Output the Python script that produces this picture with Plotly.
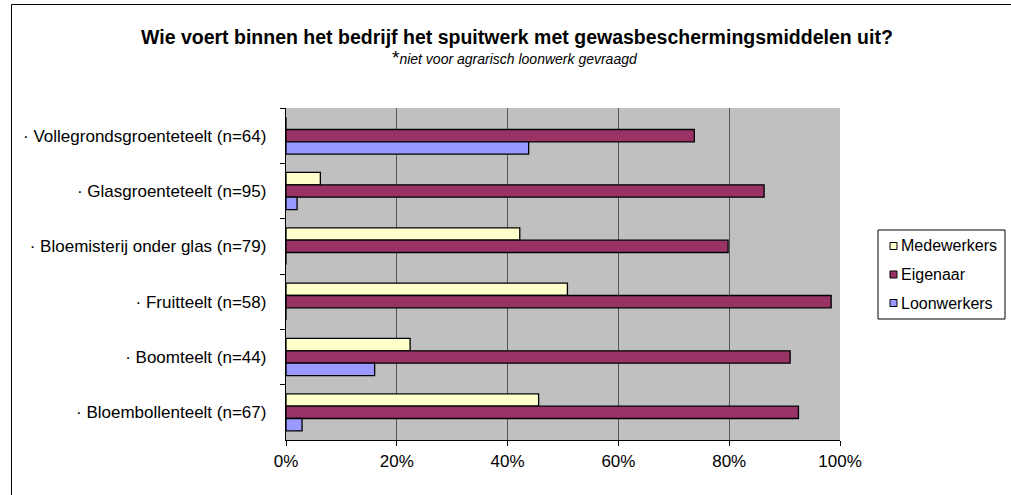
import plotly.graph_objects as go

# Sectoren (van boven naar beneden) en aandeel per uitvoerder (%)
sectoren = [
    "· Vollegrondsgroenteteelt (n=64)",
    "· Glasgroenteteelt (n=95)",
    "· Bloemisterij onder glas (n=79)",
    "· Fruitteelt (n=58)",
    "· Boomteelt (n=44)",
    "· Bloembollenteelt (n=67)",
]
medewerkers = [0.0, 6.2, 42.2, 50.8, 22.4, 45.6]
eigenaar = [73.7, 86.3, 79.8, 98.4, 91.0, 92.5]
loonwerkers = [43.8, 2.0, 0.0, 0.0, 16.0, 2.9]

series_names = ["Medewerkers", "Eigenaar", "Loonwerkers"]
series_values = [medewerkers, eigenaar, loonwerkers]
series_colors = ["#FFFFCC", "#993366", "#9999FF"]

x_ticks = [0, 20, 40, 60, 80, 100]
x_ticktext = [f"{v}%" for v in x_ticks]

FONT = "Liberation Sans, Arial, sans-serif"
W, H = 1011, 495
L, R, T, B = 286, 171, 108, 55
PW, PH = W - L - R, H - T - B


def px_x(x):
    return (x - L) / PW


def px_y(y):
    return (H - B - y) / PH


fig = go.Figure()
for name, vals, col in zip(series_names, series_values, series_colors):
    fig.add_trace(go.Bar(
        y=sectoren, x=vals, name=name, orientation="h",
        marker=dict(color=col, line=dict(color="black", width=1.3)),
        showlegend=False,
    ))

shapes = []
annotations = []

# outer frame (left and top edges)
shapes.append(dict(type="line", xref="paper", yref="paper",
                   x0=px_x(11.5), x1=px_x(1020), y0=px_y(4.5), y1=px_y(4.5),
                   line=dict(color="black", width=1)))
shapes.append(dict(type="line", xref="paper", yref="paper",
                   x0=px_x(11.5), x1=px_x(11.5), y0=px_y(4.5), y1=px_y(505),
                   line=dict(color="black", width=1)))

# titles
annotations.append(dict(
    text="<b>Wie voert binnen het bedrijf het spuitwerk met gewasbeschermingsmiddelen uit?</b>",
    xref="paper", yref="paper", x=px_x(517), y=px_y(37), showarrow=False,
    xanchor="center", yanchor="middle", font=dict(family=FONT, size=19.5, color="black")))
annotations.append(dict(
    text="<span style='font-size:19px'>*</span><i>niet voor agrarisch loonwerk gevraagd</i>",
    xref="paper", yref="paper", x=px_x(515), y=px_y(58), showarrow=False,
    xanchor="center", yanchor="middle", font=dict(family=FONT, size=14, color="black")))

# legend box
shapes.append(dict(type="rect", xref="paper", yref="paper",
                   x0=px_x(878), x1=px_x(1005), y0=px_y(230), y1=px_y(319),
                   line=dict(color="black", width=1), fillcolor="white"))
for i, (name, col) in enumerate(zip(series_names, series_colors)):
    cy = 246 + i * 28.5
    shapes.append(dict(type="rect", xref="paper", yref="paper",
                       x0=px_x(890), x1=px_x(897), y0=px_y(cy - 3.5), y1=px_y(cy + 3.5),
                       line=dict(color="black", width=1), fillcolor=col))
    annotations.append(dict(text=name, xref="paper", yref="paper",
                            x=px_x(899), y=px_y(cy), showarrow=False,
                            xanchor="left", yanchor="middle",
                            font=dict(family=FONT, size=16, color="black")))

fig.update_layout(
    width=W, height=H,
    margin=dict(l=L, r=R, t=T, b=B),
    paper_bgcolor="white",
    plot_bgcolor="#C0C0C0",
    barmode="group",
    bargap=0.33,
    bargroupgap=0,
    font=dict(family=FONT, size=16, color="black"),
    shapes=shapes,
    annotations=annotations,
    xaxis=dict(
        range=[0, 100], tickvals=x_ticks, ticktext=x_ticktext,
        showgrid=True, gridcolor="#555555", gridwidth=1,
        showline=True, linecolor="black", linewidth=1.3,
        ticks="outside", ticklen=5, tickcolor="black",
        zeroline=False, fixedrange=True,
        tickfont=dict(family=FONT, size=17, color="black"),
    ),
    yaxis=dict(
        autorange="reversed", type="category",
        showgrid=False, showline=True, linecolor="black", linewidth=1.3,
        ticks="outside", ticklen=5, tickcolor="black", tickson="boundaries",
        tickfont=dict(family=FONT, size=17, color="black"),
        ticklabelstandoff=15,
    ),
)

fig.write_html("out.html")
